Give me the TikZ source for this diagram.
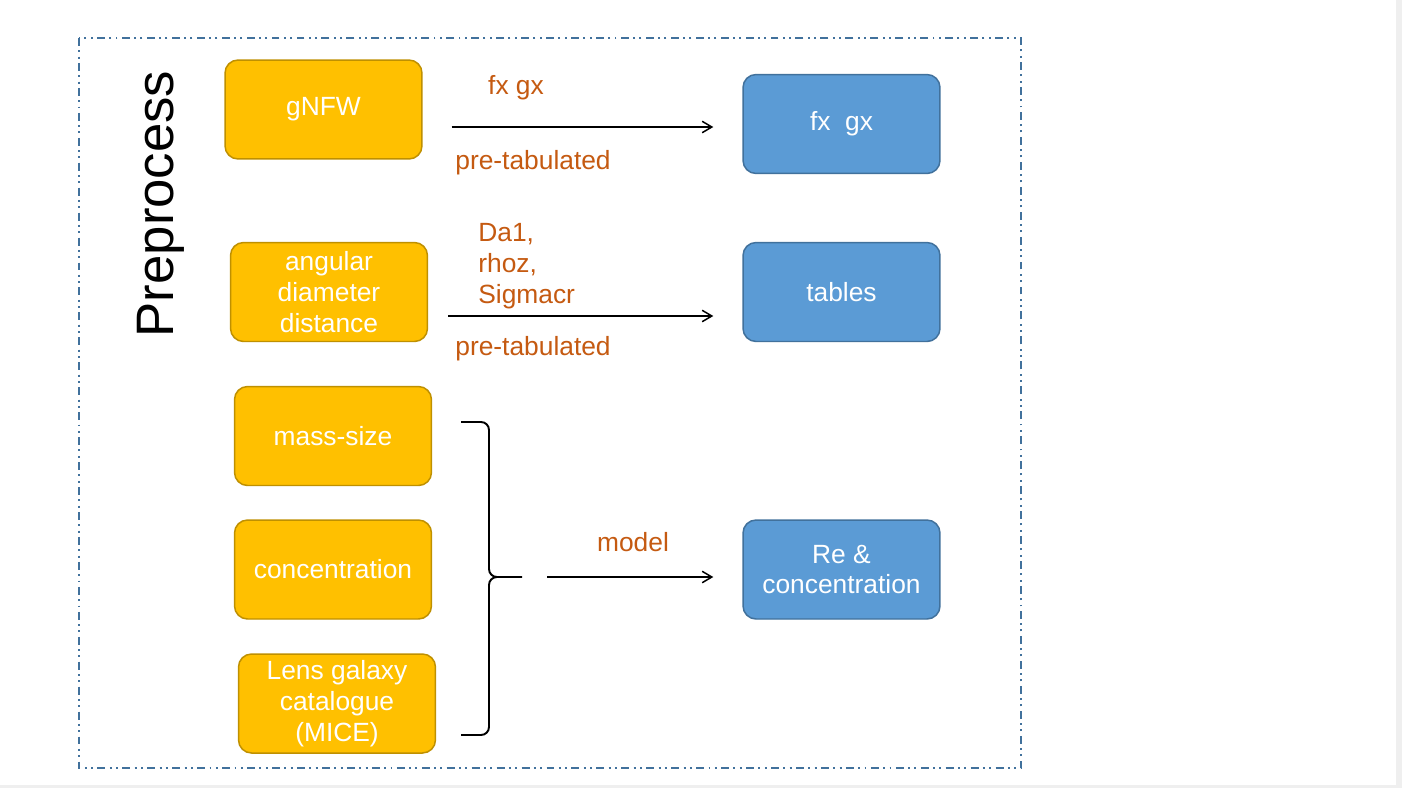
\documentclass[tikz,border=0pt]{standalone}
\usepackage{fontspec}
\setmainfont{Liberation Sans}
\usepackage{xcolor}
\usetikzlibrary{arrows.meta,positioning,calc}
\definecolor{boxgold}{HTML}{FFC000}
\definecolor{boxgoldline}{HTML}{BF9000}
\definecolor{boxblue}{HTML}{5B9BD5}
\definecolor{boxblueline}{HTML}{41719C}
\definecolor{labelorange}{HTML}{C55A11}
\definecolor{framesteel}{HTML}{41719C}
\definecolor{pagegray}{HTML}{EFEFEF}

\begin{document}
\begin{tikzpicture}[x=0.02cm,y=-0.02cm,>={Straight Barb[length=5.5pt,width=6.5pt]},
  inputbox/.style={draw=boxgoldline,line width=0.85pt,fill=boxgold,rounded corners=0.26cm,minimum width=3.94cm,minimum height=1.98cm,align=center,text=white,font=\fontsize{15}{17.6}\selectfont},
  outputbox/.style={inputbox,draw=boxblueline,fill=boxblue},
  flowlabel/.style={text=labelorange,inner sep=0pt,font=\fontsize{15}{17.6}\selectfont},
  flow/.style={->,line width=0.85pt}]
\useasboundingbox (0,0) rectangle (1402,788);
\fill[white] (0,0) rectangle (1402,788);
\fill[pagegray] (1396,0) rectangle (1402,788);
\fill[pagegray] (0,785) rectangle (1402,788);
% frame
\draw[framesteel,line width=1.1pt,dash pattern=on 4.5pt off 2.5pt on 1.1pt off 2.5pt on 1.1pt off 2.5pt] (79,38) rectangle (1021,768);
\node[rotate=90,anchor=base,inner sep=0pt,font=\fontsize{30}{34}\selectfont] (title) at (173,204) {Preprocess};
% inputs
\node[inputbox] (gnfw) at (323.5,109.5) {gNFW};
\node[inputbox] (add) at (329,292) {angular\\diameter\\distance};
\node[inputbox] (masssize) at (333,436) {mass-size};
\node[inputbox] (conc) at (333,569.5) {concentration};
\node[inputbox] (lens) at (337,703.5) {Lens galaxy\\catalogue\\(MICE)};
% outputs
\node[outputbox] (fxgx) at (841.5,124) {fx\ \ gx};
\node[outputbox] (tables) at (841.5,292) {tables};
\node[outputbox] (reconc) at (841.5,569.5) {Re \&\\concentration};
% arrows
\draw[flow] ($(gnfw.east |- fxgx.west)+(29,3)$) -- ($(fxgx.west)+(-29,3)$);
\node[flowlabel,anchor=base] (fxgxlabel) at (516,94) {fx gx};
\node[flowlabel,anchor=base west] (pretab1) at (455,169) {pre-tabulated};
\draw[flow] ($(add.east)+(20,24)$) -- ($(tables.west)+(-29,24)$);
\node[flowlabel,anchor=north west,align=left] (tablabel) at (478,223) {Da1,\\rhoz,\\Sigmacr};
\node[flowlabel,anchor=base west] (pretab2) at (455,355) {pre-tabulated};
% brace
\draw[line width=1.1pt] (461,422) -- (481,422) to[out=0,in=90] (489,430) -- (489,569) to[out=-90,in=180] (497,577) -- (522,577);
\draw[line width=1.1pt] (497,577) to[out=180,in=90] (489,585) -- (489,727) to[out=-90,in=0] (481,735) -- (461,735);
\coordinate (bracetip) at (522,577);
\draw[flow,shorten <=0.5cm,shorten >=0.58cm] (bracetip) -- (bracetip -| reconc.west);
\node[flowlabel,anchor=base] (modellabel) at (633,551) {model};
\end{tikzpicture}
\end{document}
